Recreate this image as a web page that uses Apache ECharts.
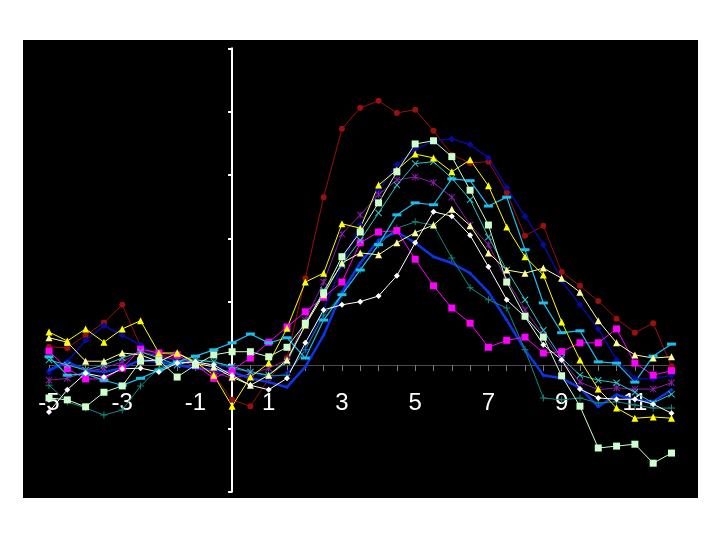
<!DOCTYPE html>
<html>
<head>
<meta charset="utf-8">
<script src="https://cdn.jsdelivr.net/npm/echarts@6/dist/echarts.min.js"></script>
<style>
html,body{margin:0;padding:0;background:#fff;}
#chart{width:720px;height:540px;}
</style>
</head>
<body>
<div id="chart"></div>
<script>
// x positions (event time), half-unit steps
var xValues = [-5,-4.5,-4,-3.5,-3,-2.5,-2,-1.5,-1,-0.5,0,0.5,1,1.5,2,2.5,3,3.5,4,4.5,5,5.5,6,6.5,7,7.5,8,8.5,9,9.5,10,10.5,11,11.5,12];
var xTickLabels = [-5,-3,-1,1,3,5,7,9,11];

var darkRed   = [0.29,0.27,0.47,0.67,0.95,0.30,0.16,0.11,0.03,-0.16,-0.55,-0.65,-0.22,0.11,1.37,2.65,3.73,4.06,4.17,3.98,4.03,3.70,3.32,3.19,3.21,2.72,2.04,2.20,1.47,1.25,1.01,0.73,0.51,0.66,-0.02];
var navy      = [-0.11,0.05,0.39,0.62,0.47,0.32,0.11,0.08,0.05,0.00,-0.05,-0.11,-0.21,-0.13,0.24,0.87,1.58,2.21,2.76,3.16,3.40,3.54,3.57,3.48,3.27,2.80,2.35,1.90,1.33,0.95,0.57,0.08,-0.21,-0.22,-0.16];
var blue      = [-0.08,0.05,-0.08,-0.11,-0.05,0.08,0.05,0.00,-0.05,-0.08,-0.11,-0.21,-0.27,-0.35,-0.03,0.47,1.15,1.61,1.97,2.10,1.93,1.71,1.61,1.45,1.15,0.71,0.24,-0.16,-0.21,-0.36,-0.66,-0.47,-0.55,-0.58,-0.39];
var yellow    = [0.52,0.38,0.57,0.36,0.57,0.70,0.19,0.19,0.05,-0.16,-0.65,-0.19,0.03,0.58,1.31,1.45,2.23,2.16,2.84,3.08,3.33,3.27,3.05,3.24,2.83,2.18,1.71,1.42,0.68,0.08,-0.38,-0.68,-0.84,-0.82,-0.84];
var lightYel  = [0.43,0.36,0.06,0.06,0.19,0.16,0.05,0.19,0.03,-0.03,-0.19,-0.32,-0.16,0.08,0.63,1.11,1.61,1.77,1.74,1.93,2.09,2.21,2.46,2.20,1.77,1.50,1.45,1.53,1.37,1.15,0.70,0.35,0.16,0.11,0.13];
var magenta   = [0.22,-0.06,-0.22,-0.22,-0.05,0.25,0.19,0.16,0.00,-0.21,-0.08,0.11,0.36,0.60,0.84,1.07,1.31,1.93,2.10,2.12,1.67,1.25,0.90,0.66,0.28,0.39,0.44,0.19,0.21,0.35,0.35,0.57,0.03,-0.16,-0.09];
var lightGrn  = [-0.52,-0.55,-0.66,-0.43,-0.33,0.06,0.08,-0.19,0.00,0.16,0.21,0.21,0.13,0.28,0.66,1.14,1.71,2.10,2.56,3.05,3.49,3.54,3.29,2.76,2.21,1.31,0.77,0.44,-0.17,-0.65,-1.31,-1.28,-1.25,-1.55,-1.39];
var white     = [-0.74,-0.39,-0.13,-0.19,-0.06,-0.05,-0.11,0.03,0.05,0.00,-0.16,-0.32,-0.39,-0.21,0.35,0.87,0.95,1.00,1.09,1.41,1.93,2.42,2.35,2.05,1.55,1.03,0.76,0.32,0.08,-0.38,-0.52,-0.54,-0.54,-0.62,-0.76];
var skyBlue   = [0.13,-0.16,-0.14,-0.24,-0.32,-0.21,-0.08,0.05,0.14,0.24,0.35,0.49,0.35,0.43,0.11,0.71,1.11,1.50,1.90,2.37,2.56,2.53,2.94,2.91,2.51,2.65,1.82,0.98,0.51,0.54,0.05,0.03,-0.27,0.14,0.33];
var turquoise = [0.08,0.00,-0.08,0.00,0.11,0.21,0.11,0.00,0.08,0.05,-0.02,-0.11,-0.16,0.05,0.63,1.18,1.58,1.97,2.40,2.84,3.18,3.21,2.95,2.61,2.02,1.50,1.03,0.55,0.11,-0.16,-0.24,-0.28,-0.43,-0.60,-0.46];
var purple    = [-0.24,-0.21,-0.11,-0.05,0.05,0.21,0.14,0.08,-0.02,-0.11,-0.21,-0.14,-0.05,0.08,0.71,1.31,2.07,2.37,2.69,2.92,2.97,2.88,2.65,2.21,1.90,1.34,0.87,0.47,0.08,-0.27,-0.39,-0.36,-0.38,-0.38,-0.28];
var teal      = [-0.32,-0.58,-0.68,-0.79,-0.71,-0.33,-0.05,0.05,0.08,0.05,-0.05,-0.11,-0.17,-0.16,0.24,0.79,1.11,1.50,1.90,2.16,2.26,2.21,1.69,1.22,1.03,0.90,0.24,-0.52,-0.55,-0.52,-0.60,-0.58,-0.63,-0.68,-0.68];

var xPath = 'path://M0,1 L1,0 L5,4 L9,0 L10,1 L6,5 L10,9 L9,10 L5,6 L1,10 L0,9 L4,5 Z';
var plusPath = 'path://M4.3,0 H5.7 V4.3 H10 V5.7 H5.7 V10 H4.3 V5.7 H0 V4.3 H4.3 Z';
var starPath = 'path://M0,1 L1,0 L5,4 L9,0 L10,1 L6,5 L10,9 L9,10 L5,6 L1,10 L0,9 L4,5 Z M4.4,0 H5.6 V10 H4.4 Z';

function pairs(vals){ return xValues.map(function(x,i){ return [x, vals[i]]; }); }
function mk(name, vals, color, symbol, size, width){
  return {
    name: name, type: 'line', data: pairs(vals),
    symbol: symbol, symbolSize: size, showSymbol: true,
    lineStyle: {color: color, width: width || 1},
    itemStyle: {color: color, borderWidth: 0},
    emphasis: {disabled: true}
  };
}
function labelFor(v){
  var n = Number(v);
  var r = Math.round(n);
  if (Math.abs(n - r) > 1e-6) return '';
  return xTickLabels.indexOf(r) >= 0 ? String(r) : '';
}

var chart = echarts.init(document.getElementById('chart'), null, {renderer: 'canvas'});
chart.setOption({
  animation: false,
  backgroundColor: '#ffffff',
  graphic: [{type: 'rect', z: -100, silent: true, shape: {x: 23, y: 40, width: 675, height: 458}, style: {fill: '#000000'}}],
  grid: {left: 49, right: 48.5, top: 48.3, bottom: 48.3},
  xAxis: {
    type: 'value', min: -5, max: 12, interval: 0.5,
    axisLine: {show: true, onZero: true, lineStyle: {color: '#4a4a4a', width: 1}},
    axisTick: {show: true, length: 6, lineStyle: {color: '#7a7a7a', width: 1}},
    axisLabel: {
      show: true, color: '#ffffff', fontSize: 24, fontFamily: 'Liberation Sans, Arial, sans-serif', margin: -100,
      hideOverlap: false, showMinLabel: true, showMaxLabel: true,
      formatter: labelFor
    },
    splitLine: {show: false}
  },
  yAxis: {
    type: 'value', min: -2, max: 5, interval: 1,
    axisLine: {show: true, onZero: true, lineStyle: {color: '#ffffff', width: 2}},
    axisTick: {show: true, length: 4, lineStyle: {color: '#ffffff', width: 2}},
    axisLabel: {show: false},
    splitLine: {show: false}
  },
  series: [
    mk('A', darkRed, '#9a0f0f', 'circle', 6, 1),
    mk('B', navy, '#0a0a9c', 'diamond', 7, 1.5),
    mk('C', blue, '#0b35e6', 'diamond', 4, 2.5),
    mk('D', teal, '#138a7e', plusPath, 7, 1),
    mk('E', purple, '#8a1fa8', starPath, 7, 1),
    mk('F', magenta, '#ff00ff', 'rect', 7, 1),
    mk('G', skyBlue, '#19c0ee', 'rect', [9, 3], 1.2),
    mk('H', turquoise, '#2ec4c8', xPath, 7, 1),
    mk('I', lightYel, '#ffff99', 'triangle', 7, 1),
    mk('J', yellow, '#ffff00', 'triangle', 7, 1),
    mk('K', white, '#ffffff', 'diamond', 6, 1),
    mk('L', lightGrn, '#ccffcc', 'rect', 7, 1)
  ]
});
</script>
</body>
</html>
